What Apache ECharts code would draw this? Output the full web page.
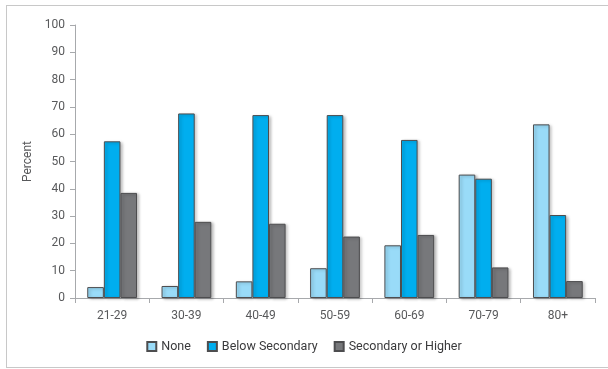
<!DOCTYPE html>
<html>
<head>
<meta charset="utf-8">
<script src="https://cdn.jsdelivr.net/npm/echarts@6/dist/echarts.min.js"></script>
<style>
  html, body { margin: 0; padding: 0; background: #fff; overflow: hidden; width: 608px; height: 369px; }
  .frame {
    position: absolute; left: 6px; top: 5px; width: 602px; height: 363px;
    border: 1px solid #c8c8c8; border-right: none; box-sizing: border-box;
  }
  #chart { position: absolute; left: 0; top: 0; width: 608px; height: 369px; }
</style>
</head>
<body>
<div class="frame"></div>
<div id="chart"></div>
<script>
  var categories = ['21-29', '30-39', '40-49', '50-59', '60-69', '70-79', '80+']
  var noneValues = [4.0, 4.4, 6.1, 10.9, 19.3, 45.2, 63.6]
  var belowSecondary = [57.4, 67.6, 67.0, 67.0, 57.9, 43.7, 30.4]
  var secondaryOrHigher = [38.5, 27.9, 27.2, 22.5, 23.1, 11.2, 6.2]
  var yTicks = { min: 0, max: 100, interval: 10 }

  var chart = echarts.init(document.getElementById('chart'))
  var fontFamily = 'Roboto, "DejaVu Sans", sans-serif'
  var textColor = '#58595b'

  function barSeries (name, data, color) {
    return {
      name: name,
      type: 'bar',
      data: data,
      barGap: '0%',
      barCategoryGap: '33%',
      itemStyle: {
        color: color,
        borderColor: '#4d4d4f',
        borderWidth: 1,
        shadowColor: 'rgba(0,0,0,0.25)',
        shadowBlur: 3,
        shadowOffsetX: 2,
        shadowOffsetY: 1
      }
    }
  }

  chart.setOption({
    animation: false,
    textStyle: { fontFamily: fontFamily },
    grid: { left: 75, right: 13, top: 25, bottom: 71 },
    legend: {
      bottom: 11,
      left: 'center',
      itemWidth: 9,
      itemHeight: 9,
      itemGap: 16,
      icon: 'rect',
      textStyle: { color: '#3a3a3c', fontSize: 12.5, fontFamily: fontFamily },
      data: ['None', 'Below Secondary', 'Secondary or Higher']
    },
    xAxis: {
      type: 'category',
      data: categories,
      axisLine: { lineStyle: { color: '#a7a9ac', width: 1 } },
      axisTick: { show: true, length: 5, lineStyle: { color: '#a7a9ac' } },
      axisLabel: { color: textColor, fontSize: 12, margin: 12 }
    },
    yAxis: {
      type: 'value',
      min: yTicks.min,
      max: yTicks.max,
      interval: yTicks.interval,
      name: 'Percent',
      nameLocation: 'middle',
      nameGap: 38,
      nameTextStyle: { color: textColor, fontSize: 12 },
      axisLine: { show: true, lineStyle: { color: '#a7a9ac' } },
      axisTick: { show: true, length: 5, lineStyle: { color: '#a7a9ac' } },
      axisLabel: { color: textColor, fontSize: 12, margin: 10 },
      splitLine: { show: false }
    },
    series: [
      barSeries('None', noneValues, '#99dbf8'),
      barSeries('Below Secondary', belowSecondary, '#00aeef'),
      barSeries('Secondary or Higher', secondaryOrHigher, '#77787b')
    ]
  })
</script>
</body>
</html>
